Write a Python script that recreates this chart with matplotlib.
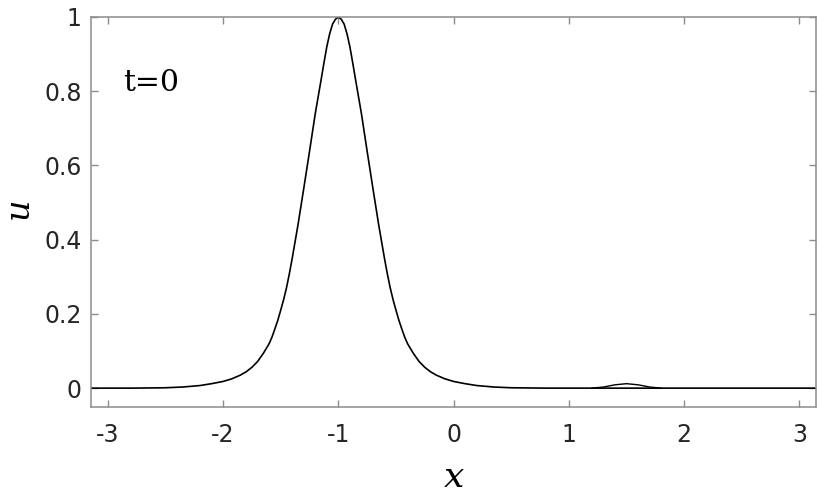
import numpy as np
import matplotlib
matplotlib.use('Agg')
import matplotlib.pyplot as plt


# Curve (u at t=0)
x_vals = [-3.1416, -2.8, -2.5, -2.35, -2.2, -2.1, -2.0, -1.925, -1.85, -1.8,
          -1.75, -1.7, -1.65, -1.6, -1.575, -1.55, -1.525, -1.5, -1.475, -1.45,
          -1.425, -1.4, -1.35, -1.3, -1.25, -1.2, -1.175, -1.15, -1.125, -1.1,
          -1.075, -1.05, -1.025, -1.0,
          -0.975, -0.95, -0.925, -0.9, -0.875, -0.85, -0.825, -0.8, -0.75, -0.7,
          -0.65, -0.6, -0.575, -0.55, -0.525, -0.5, -0.475, -0.45, -0.425, -0.4,
          -0.35, -0.3, -0.25, -0.2, -0.15, -0.075, 0.0, 0.1, 0.2, 0.35,
          0.5, 0.8, 1.2, 2.0, 3.1416]
u_vals = [0.0, 0.0, 0.001, 0.003, 0.007, 0.012, 0.018, 0.025, 0.035, 0.044,
          0.056, 0.072, 0.094, 0.12, 0.138, 0.16, 0.183, 0.21, 0.238, 0.27,
          0.308, 0.35, 0.44, 0.538, 0.638, 0.74, 0.785, 0.83, 0.876, 0.92,
          0.955, 0.981, 0.994, 1.0,
          0.994, 0.981, 0.955, 0.92, 0.876, 0.83, 0.785, 0.74, 0.638, 0.538,
          0.44, 0.35, 0.308, 0.27, 0.238, 0.21, 0.183, 0.16, 0.138, 0.12,
          0.094, 0.072, 0.056, 0.044, 0.035, 0.025, 0.018, 0.012, 0.007, 0.003,
          0.001, 0.0, 0.0, 0.0, 0.0]

# small bump near x = 1.5
bump_x = [1.2, 1.3, 1.4, 1.5, 1.6, 1.7, 1.8]
bump_u = [0.0, 0.003, 0.009, 0.012, 0.009, 0.003, 0.0]

x_ticks = [-3, -2, -1, 0, 1, 2, 3]
y_ticks = [0, 0.2, 0.4, 0.6, 0.8, 1]
y_tick_labels = ['0', '0.2', '0.4', '0.6', '0.8', '1']

fig = plt.figure(figsize=(8.29, 4.97), dpi=100)
ax = fig.add_axes([0.1103, 0.1817, 0.8738, 0.7841])

ax.plot(x_vals, u_vals, color='black', lw=1.2)
ax.plot(bump_x, bump_u, color='black', lw=1.0)

ax.set_xlim(-np.pi, np.pi)
ax.set_ylim(-0.05, 1.0)
ax.set_xticks(x_ticks)
ax.set_xticklabels([str(t) for t in x_ticks])
ax.set_yticks(y_ticks)
ax.set_yticklabels(y_tick_labels)

spine_col = '#8c8c8c'
for s in ax.spines.values():
    s.set_color(spine_col)
    s.set_linewidth(1.1)

ax.tick_params(axis='both', direction='in', length=5, width=1.0,
               color=spine_col, labelcolor='#262626', labelsize=17,
               top=True, right=True)
ax.tick_params(axis='x', pad=12)
ax.tick_params(axis='y', pad=7)
for lab in ax.get_xticklabels() + ax.get_yticklabels():
    lab.set_family('DejaVu Sans')

# axis labels
ax.text(0.5, -0.205, 'x', transform=ax.transAxes, ha='center', va='baseline',
        fontsize=26, family='DejaVu Serif', style='italic')
ax.text(-0.101, 0.509, 'u', transform=ax.transAxes, ha='center', va='center',
        rotation=90, fontsize=24, family='DejaVu Serif', style='italic')

ax.text(-2.87, 0.80, 't=0', ha='left', va='baseline', fontsize=21.5,
        family='DejaVu Serif')

fig.savefig('out.png', dpi=100)
